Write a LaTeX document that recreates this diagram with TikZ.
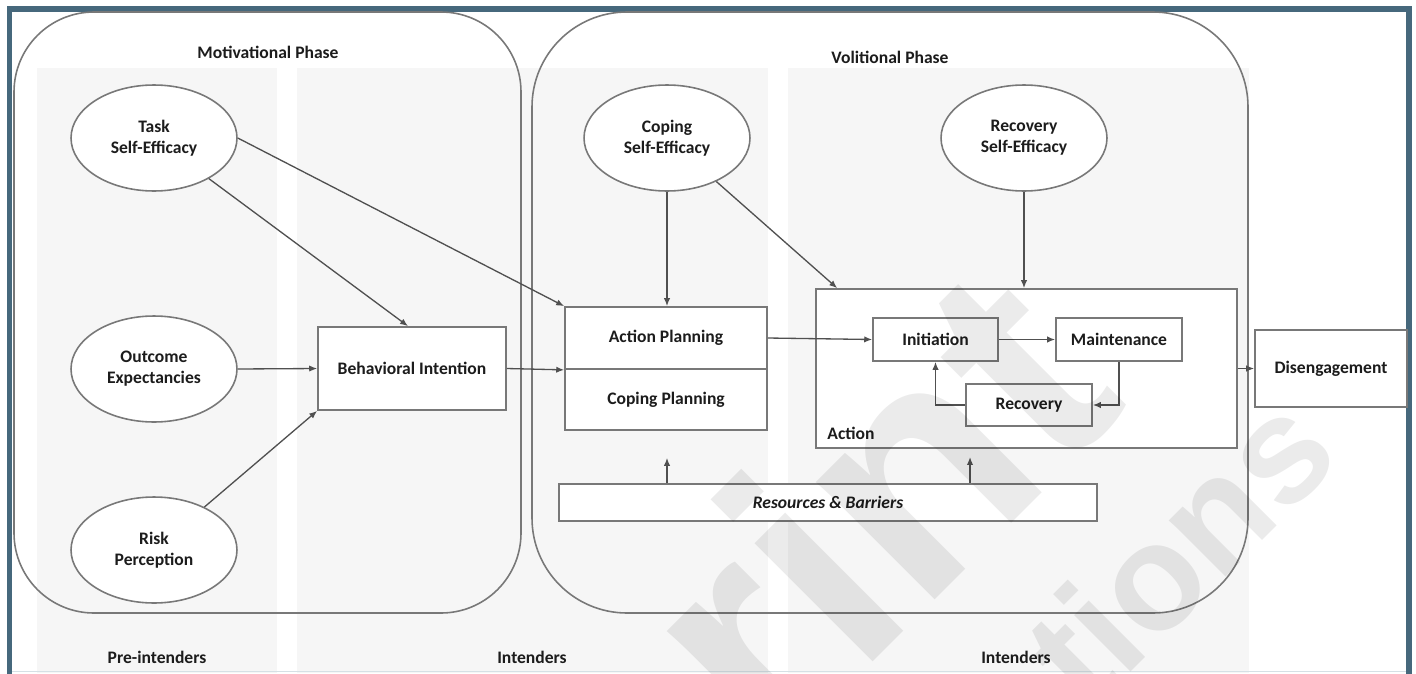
\documentclass[tikz,border=0pt]{standalone}
\usepackage{fontspec}
\setmainfont{Carlito}
\newfontfamily\wmfont{Liberation Sans}
\usetikzlibrary{arrows.meta,shapes.geometric,calc}

\definecolor{frameblue}{RGB}{70,104,124}
\definecolor{framelight}{RGB}{214,224,229}
\definecolor{colshade}{RGB}{246,246,246}
\definecolor{edgegray}{RGB}{120,120,120}
\definecolor{linegray}{RGB}{80,80,80}
\definecolor{txt}{RGB}{28,28,28}

\begin{document}
\begin{tikzpicture}[x=0.02cm,y=-0.02cm,
  font=\fontsize{10}{12}\selectfont\bfseries, text=txt,
  box/.style={draw=edgegray, line width=1pt, fill=white, inner sep=0pt, align=center},
  oval/.style={ellipse, draw=edgegray, line width=0.9pt, fill=white,
    minimum width=3.32cm, minimum height=2.12cm, inner sep=0pt, align=center},
  phase/.style={draw=edgegray, line width=0.9pt, rounded corners=#1},
  link/.style={draw=linegray, line width=0.75pt, -{Latex[length=4.5pt,width=3.6pt]}},
  lbl/.style={inner sep=0pt},
  wmark/.style={rotate=45, anchor=base west, inner sep=0pt, text=black,
    font=\wmfont\fontsize{#1}{#1}\selectfont\bfseries}
]
\useasboundingbox (0,0) rectangle (1416,673);
\clip (0,0) rectangle (1416,673);

% page and participant columns
\fill[white] (0,0) rectangle (1416,673);
\fill[colshade] (37,68) rectangle (277,673);
\fill[colshade] (297,68) rectangle (768,673);
\fill[colshade] (788,68) rectangle (1249,673);

% outer frame
\draw[frameblue, line width=0.11cm] (9.5,690) -- (9.5,9) -- (1409,9) -- (1409,690);
\draw[framelight, line width=0.03cm] (12,671.5) -- (1406,671.5);

% phases
\draw[phase=1.6cm] (14,12) rectangle (521,613);
\draw[phase=1.9cm] (532,12) rectangle (1248,613);
\node[lbl] (motT) at (268,52) {Motivational Phase};
\node[lbl] (volT) at (890,57) {Volitional Phase};

% participant groups
\node[lbl] (pre) at (157,657) {Pre-intenders};
\node[lbl] (intA) at (532,657) {Intenders};
\node[lbl] (intB) at (1016,657) {Intenders};

% constructs
\node[oval] (tse) at (154,138) {Task\\Self-Efficacy};
\node[oval] (oe) at (154,369) {Outcome\\Expectancies};
\node[oval] (rp) at (154,550) {Risk\\Perception};
\node[oval] (cse) at (667,138) {Coping\\Self-Efficacy};
\node[oval] (rse) at (1024,138) {Recovery\\Self-Efficacy};

\node[box, minimum width=3.76cm, minimum height=1.66cm] (bi) at (412,368.5) {Behavioral Intention};
\node[box, minimum width=4.04cm, minimum height=1.24cm] (ap) at (666,338) {Action Planning};
\node[box, minimum width=4.04cm, minimum height=1.22cm] (cp) at (666,399.5) {Coping Planning};

\node[box, minimum width=8.42cm, minimum height=3.18cm] (act) at (1026.5,368.5) {};
\node[lbl, anchor=west] (actL) at (827,433) {Action};
\node[box, minimum width=2.5cm, minimum height=0.86cm] (init) at (935.5,339.5) {Initiation};
\node[box, minimum width=2.52cm, minimum height=0.86cm] (maint) at (1119,339.5) {Maintenance};
\node[box, minimum width=2.52cm, minimum height=0.84cm] (rec) at (1029,405) {Recovery};

\node[box, minimum width=3.04cm, minimum height=1.54cm] (dis) at (1331,368.5) {Disengagement};
\node[box, minimum width=10.76cm, minimum height=0.74cm] (rb) at (828,502.5) {\itshape Resources \& Barriers};

% paths
\draw[link] (tse) -- ([shift={(-4,0)}]bi.north);
\draw[link] (tse.east) -- (ap.north west);
\draw[link] (oe.east) -- (bi.west);
\draw[link] (rp) -- (bi.south west);
\draw[link] (bi.east) -- (ap.south west);
\draw[link] (cse.south) -- (cse.south |- ap.north);
\draw[link] (cse) -- ([shift={(22,0)}]act.north west);
\draw[link] (rse.south) -- (rse.south |- act.north);
\draw[link] (ap.east) -- (init.west);
\draw[link] (init.east) -- (maint.west);
\draw[link] (maint.south) |- (rec.east);
\draw[link] (rec.west) -| (init.south);
\draw[link] (act.east) -- (dis.west);
\coordinate (cpIn) at ([shift={(1,27)}]cp.south);
\coordinate (actIn) at (970,457);
\draw[link] (cpIn |- rb.north) -- (cpIn);
\draw[link] (actIn |- rb.north) -- (actIn);

% watermark
\begin{scope}[opacity=0.08]
  \node[wmark=180] (wmA) at (770,765) {rint};
  \node[wmark=86] (wmB) at (1088,715) {tions};
\end{scope}
\end{tikzpicture}
\end{document}
